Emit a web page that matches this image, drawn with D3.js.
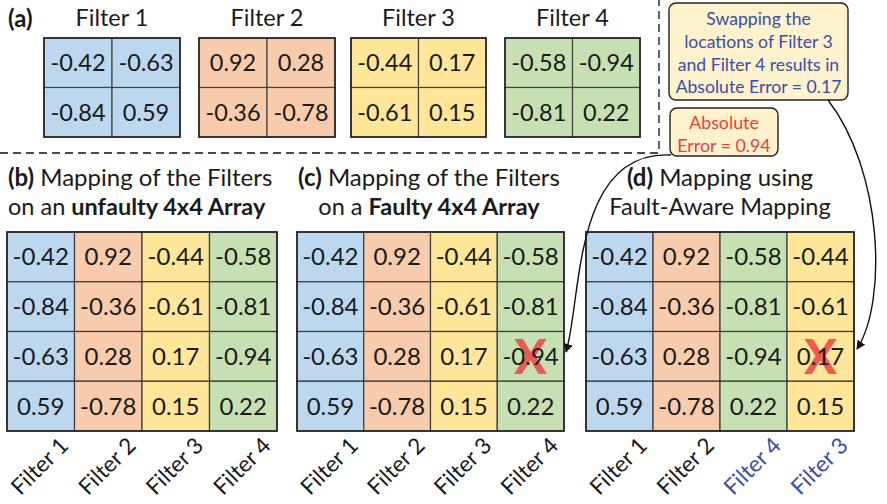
<!DOCTYPE html>
<html>
<head>
<meta charset="utf-8">
<script src="https://cdn.jsdelivr.net/npm/d3@7"></script>
<style>
  html, body { margin: 0; padding: 0; background: #fff; }
  svg { display: block; font-family: Lato, "Open Sans", sans-serif; }
</style>
</head>
<body>
<svg id="chart" width="887" height="504"></svg>
<script>
// ---- data ----
const filterNames = ["Filter 1", "Filter 2", "Filter 3", "Filter 4"];
// 2x2 weights of each filter, row by row
const filter1 = [[-0.42, -0.63], [-0.84, 0.59]];
const filter2 = [[0.92, 0.28], [-0.36, -0.78]];
const filter3 = [[-0.44, 0.17], [-0.61, 0.15]];
const filter4 = [[-0.58, -0.94], [-0.81, 0.22]];
const filters = [filter1, filter2, filter3, filter4];
// column order of filters on each 4x4 array
const orderUnfaulty = [0, 1, 2, 3];
const orderFaulty = [0, 1, 2, 3];
const orderFaultAware = [0, 1, 3, 2];
// faulty cell of the array: [row, column]
const faultyCell = [2, 3];
const errorNaive = 0.94;
const errorAware = 0.17;

// ---- styles ----
const fills = ["#bdd7ee", "#f8cbad", "#ffe699", "#c6e0b4"];
const ink = "#1a1a1a";
const blueText = "#3b4ea6";
const redText = "#e8403a";
const fmt = v => d3.format(".2f")(v).replace("\u2212", "-");

const svg = d3.select("#chart");

// flatten a 2x2 filter into one array column (column-major)
const toColumn = f => [f[0][0], f[1][0], f[0][1], f[1][1]];

// ---- (a) the four filters ----
const smallX = [[44, 180], [199, 335], [351, 486], [505, 640]];
const smallY = d3.scaleBand().domain([0, 1]).range([38, 137]);

svg.append("text").attr("x", 8).attr("y", 27)
  .attr("font-size", 24).attr("font-weight", "bold").attr("fill", ink).text("(a)");

filters.forEach((f, k) => {
  const x = d3.scaleBand().domain([0, 1]).range(smallX[k]);
  const g = svg.append("g");
  g.append("text").attr("x", (smallX[k][0] + smallX[k][1]) / 2).attr("y", 26)
    .attr("text-anchor", "middle").attr("font-size", 23.5).attr("fill", ink)
    .text(filterNames[k]);
  const cells = [];
  f.forEach((row, r) => row.forEach((v, c) => cells.push({ r, c, v })));
  g.selectAll("rect").data(cells).join("rect")
    .attr("x", d => x(d.c)).attr("y", d => smallY(d.r))
    .attr("width", x.bandwidth()).attr("height", smallY.bandwidth())
    .attr("fill", fills[k]).attr("stroke", "#444").attr("stroke-width", 1.2);
  g.append("rect")
    .attr("x", smallX[k][0]).attr("y", smallY.range()[0])
    .attr("width", smallX[k][1] - smallX[k][0]).attr("height", smallY.range()[1] - smallY.range()[0])
    .attr("fill", "none").attr("stroke", "#222").attr("stroke-width", 1.6);
  g.selectAll("text.v").data(cells).join("text").attr("class", "v")
    .attr("x", d => x(d.c) + x.bandwidth() / 2)
    .attr("y", d => smallY(d.r) + smallY.bandwidth() / 2 + 8.5)
    .attr("text-anchor", "middle").attr("font-size", 23.5).attr("fill", ink)
    .text(d => fmt(d.v));
});

// dashed frame around (a)
svg.append("path")
  .attr("d", d3.line()([[0, 153], [659, 153], [659, 0]]))
  .attr("fill", "none").attr("stroke", "#111").attr("stroke-width", 1.3)
  .attr("stroke-dasharray", "8,5");

// ---- 4x4 arrays ----
const rowY = d3.scaleBand().domain([0, 1, 2, 3]).range([232, 431]);

function drawArray(range, order, faulty, titleLines, titleX, anchor, labelColors) {
  const x = d3.scaleBand().domain([0, 1, 2, 3]).range(range);
  const g = svg.append("g");
  const cells = [];
  order.forEach((fi, c) => toColumn(filters[fi]).forEach((v, r) => cells.push({ r, c, v, fi })));
  g.selectAll("rect").data(cells).join("rect")
    .attr("x", d => x(d.c)).attr("y", d => rowY(d.r))
    .attr("width", x.bandwidth()).attr("height", rowY.bandwidth())
    .attr("fill", d => fills[d.fi]).attr("stroke", "#3a3a3a").attr("stroke-width", 1.2);
  g.append("rect")
    .attr("x", range[0]).attr("y", rowY.range()[0])
    .attr("width", range[1] - range[0]).attr("height", rowY.range()[1] - rowY.range()[0])
    .attr("fill", "none").attr("stroke", "#222").attr("stroke-width", 1.6);
  if (faulty) {
    g.append("text")
      .attr("x", x(faulty[1]) + x.bandwidth() / 2)
      .attr("y", rowY(faulty[0]) + rowY.bandwidth() / 2 + 18)
      .attr("text-anchor", "middle").attr("font-size", 48).attr("font-weight", 900)
      .attr("fill", "#ef4747").attr("fill-opacity", 0.88).text("X");
  }
  g.selectAll("text.v").data(cells).join("text").attr("class", "v")
    .attr("x", d => x(d.c) + x.bandwidth() / 2)
    .attr("y", d => rowY(d.r) + rowY.bandwidth() / 2 + 8.5)
    .attr("text-anchor", "middle").attr("font-size", 24).attr("fill", ink)
    .text(d => fmt(d.v));
  // rotated filter labels under each column
  g.selectAll("text.lab").data(order).join("text").attr("class", "lab")
    .attr("transform", (fi, c) => `translate(${x(c) + x.bandwidth() / 2 + 29},447) rotate(-45)`)
    .attr("text-anchor", "end").attr("font-size", 22.5)
    .attr("fill", (fi, c) => labelColors[c])
    .text(fi => filterNames[fi]);
  // title
  const t = svg.append("text").attr("x", titleX).attr("text-anchor", anchor).attr("fill", ink);
  titleLines.forEach((line, i) => {
    const ts = t.append("tspan").attr("x", titleX).attr("y", 186 + i * 29)
      .attr("font-size", i === 0 ? 24 : 23.5);
    line.forEach(seg => ts.append("tspan").attr("font-weight", seg.b ? "bold" : null).text(seg.t));
  });
}

drawArray([7, 277], orderUnfaulty, null,
  [[{ t: "(b)", b: true }, { t: " Mapping of the Filters" }],
   [{ t: "on an " }, { t: "unfaulty 4x4 Array", b: true }]],
  8, "start", [ink, ink, ink, ink]);

drawArray([297, 564], orderFaulty, faultyCell,
  [[{ t: "(c)", b: true }, { t: " Mapping of the Filters" }],
   [{ t: "on a " }, { t: "Faulty 4x4 Array", b: true }]],
  429, "middle", [ink, ink, ink, ink]);

drawArray([586, 854], orderFaultAware, faultyCell,
  [[{ t: "(d)", b: true }, { t: " Mapping using" }],
   [{ t: "Fault-Aware Mapping" }]],
  720, "middle", [ink, ink, blueText, blueText]);

// ---- callouts ----
function callout(x0, y0, x1, y1, lines, color, baseY, step, size) {
  svg.append("rect").attr("x", x0).attr("y", y0).attr("width", x1 - x0).attr("height", y1 - y0)
    .attr("rx", 7).attr("fill", "#fff2cc").attr("stroke", "#222").attr("stroke-width", 1.4);
  svg.append("g").selectAll("text").data(lines).join("text")
    .attr("x", (x0 + x1) / 2).attr("y", (d, i) => baseY + i * step)
    .attr("text-anchor", "middle").attr("font-size", size).attr("fill", color).text(d => d);
}
callout(669, 3, 848, 100,
  ["Swapping the", "locations of Filter 3", "and Filter 4 results in",
   `Absolute Error = ${errorAware}`], blueText, 25, 22.8, 17.6);
callout(670, 108, 778, 156, ["Absolute", `Error = ${errorNaive}`], redText, 129, 23, 17.8);

// ---- arrows ----
svg.append("defs").append("marker")
  .attr("id", "head").attr("viewBox", "0 0 10 10").attr("refX", 9).attr("refY", 5)
  .attr("markerWidth", 9).attr("markerHeight", 9).attr("orient", "auto")
  .attr("markerUnits", "userSpaceOnUse")
  .append("path").attr("d", "M0,0 L10,5 L0,10 z").attr("fill", "#111");

svg.append("path")
  .attr("d", "M671,155 C572,150 582,300 566,352")
  .attr("fill", "none").attr("stroke", "#111").attr("stroke-width", 1.4)
  .attr("marker-end", "url(#head)");
svg.append("path")
  .attr("d", "M828,100 C882,170 888,300 857,349")
  .attr("fill", "none").attr("stroke", "#111").attr("stroke-width", 1.4)
  .attr("marker-end", "url(#head)");
</script>
</body>
</html>
